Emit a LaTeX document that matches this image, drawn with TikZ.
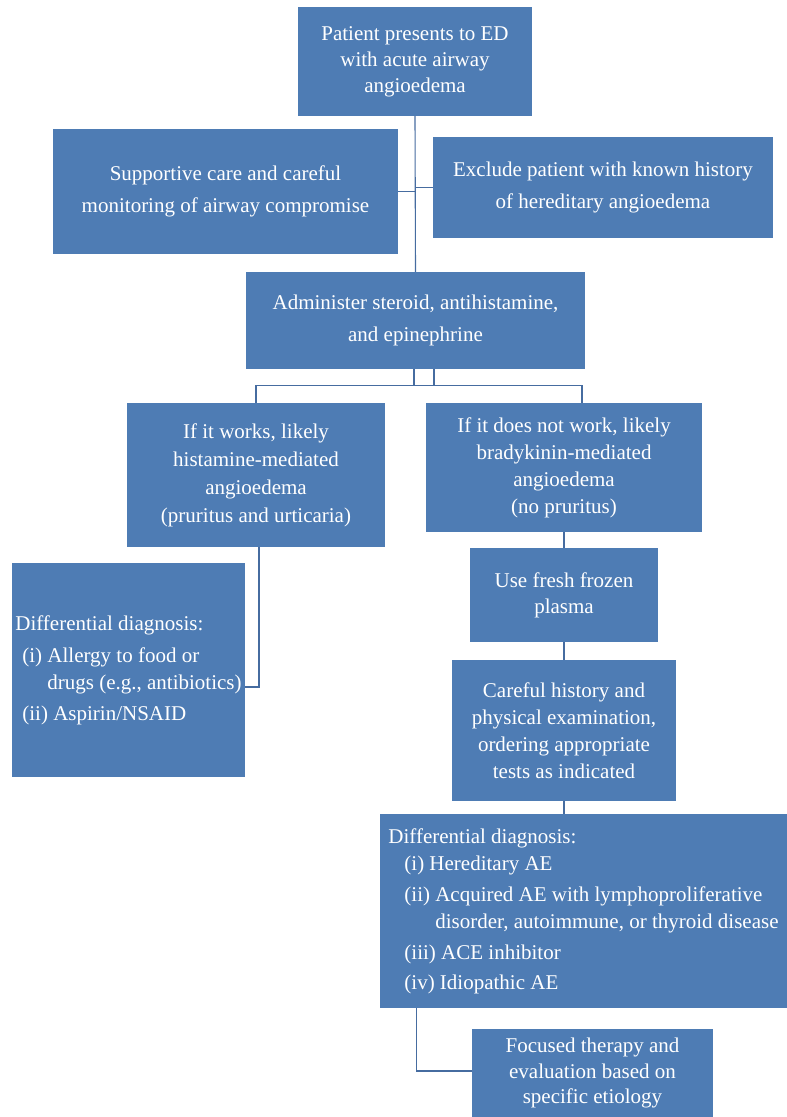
\documentclass[tikz,border=0pt]{standalone}
\usepackage{fontspec}
\setmainfont{Liberation Serif}
\usetikzlibrary{positioning, calc}

\definecolor{boxblue}{RGB}{78,124,180}
\definecolor{lineblue}{RGB}{70,108,160}

\begin{document}
\begin{tikzpicture}[x=1pt, y=-1pt,
    fbox/.style={fill=boxblue, text=white, inner sep=3pt, align=center,
                 font=\fontsize{21}{27}\selectfont},
    link/.style={draw=lineblue, line width=1.1pt}
  ]
  \useasboundingbox (0,0) rectangle (787,1117);

  % --- top part ---
  \node[fbox, minimum width=234pt, minimum height=109pt,
        font=\fontsize{21}{26}\selectfont] (pres) at (415,61.5)
    {Patient presents to ED\\ with acute airway\\ angioedema};
  \node[fbox, minimum width=345pt, minimum height=125pt,
        font=\fontsize{21}{32}\selectfont] (supp) at (225.5,191.5)
    {Supportive care and careful\\ monitoring of airway compromise};
  \node[fbox, minimum width=340pt, minimum height=101pt,
        font=\fontsize{21}{32}\selectfont] (excl) at (603,187.5)
    {Exclude patient with known history\\ of hereditary angioedema};
  \node[fbox, minimum width=339pt, minimum height=97pt,
        font=\fontsize{21}{32}\selectfont] (admin) at (415.5,320.5)
    {Administer steroid, antihistamine,\\ and epinephrine};

  % --- two branches ---
  \node[fbox, minimum width=258pt, minimum height=144pt,
        font=\fontsize{21}{28}\selectfont] (works) at (256,475)
    {If it works, likely\\ histamine-mediated\\ angioedema\\ (pruritus and urticaria)};
  \node[fbox, minimum width=276pt, minimum height=129pt] (fails) at (564,467.5)
    {If it does not work, likely\\ bradykinin-mediated\\ angioedema\\ (no pruritus)};
  \node[fbox, minimum width=233pt, minimum height=214pt, align=left,
        inner sep=1pt] (ddleft) at (128.5,670)
    {Differential diagnosis:\\[5pt]
     \hspace{7pt}(i) Allergy to food or\\
     \hspace{7pt}\hphantom{(i) }drugs (e.g., antibiotics)\\[4pt]
     \hspace{7pt}(ii) Aspirin/NSAID};

  % --- right column ---
  \node[fbox, minimum width=188pt, minimum height=94pt,
        font=\fontsize{21}{26}\selectfont] (ffp) at (564,595)
    {Use fresh frozen\\ plasma};
  \node[fbox, minimum width=224pt, minimum height=141pt] (hist) at (564,730.5)
    {Careful history and\\ physical examination,\\ ordering appropriate\\ tests as indicated};
  \node[fbox, minimum width=407pt, minimum height=194pt, align=left,
        inner sep=1pt] (ddright) at (583.5,911)
    {Differential diagnosis:\\
     \hspace{16pt}(i) Hereditary AE\\[4pt]
     \hspace{16pt}(ii) Acquired AE with lymphoproliferative\\
     \hspace{16pt}\hphantom{(ii) }disorder, autoimmune, or thyroid disease\\[4pt]
     \hspace{16pt}(iii) ACE inhibitor\\[3pt]
     \hspace{16pt}(iv) Idiopathic AE};
  \node[fbox, minimum width=241pt, minimum height=88pt,
        font=\fontsize{21}{25.5}\selectfont] (focus) at (592.5,1073)
    {Focused therapy and\\ evaluation based on\\ specific etiology};

  % --- connectors ---
  \draw[link] (pres.south) -- (admin.north);
  \draw[link] (supp.east) -- (supp.east -| pres.south);
  \draw[link] (excl.west) -- (excl.west -| pres.south);
  \draw[link] ([xshift=-1.5pt]admin.south) -- ++(0,16) -| ([xshift=18.5pt]admin.south);
  \coordinate (split) at ($(admin.south)+(0,16)$);
  \draw[link] (works.north) |- (split) -| ([xshift=18pt]fails.north);
  \draw[link] ([xshift=3pt]works.south) |- ([yshift=-17pt]ddleft.east);
  \draw[link] (fails.south) -- (ffp.north);
  \draw[link] (ffp.south) -- (hist.north);
  \draw[link] (hist.south) -- (hist.south |- ddright.north);
  \draw[link] ([xshift=37pt]ddright.south west) |- ([yshift=2pt]focus.west);
\end{tikzpicture}
\end{document}
